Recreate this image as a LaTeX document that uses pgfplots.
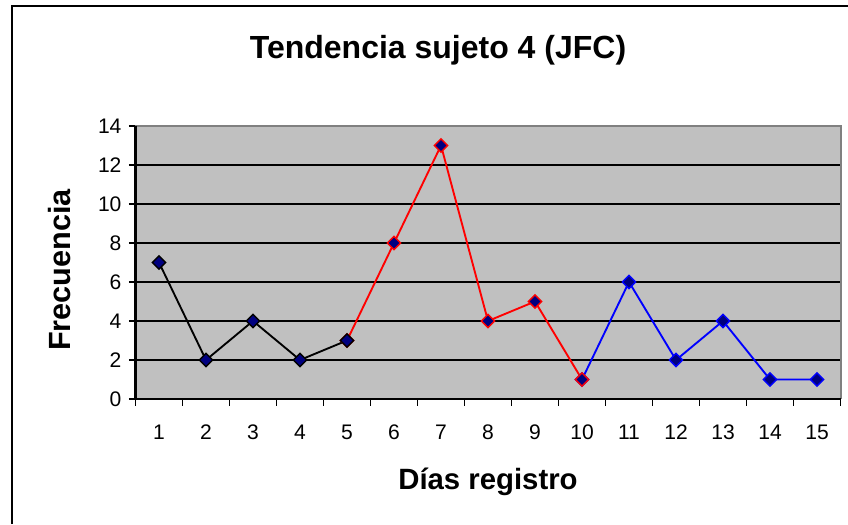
\documentclass[border=0pt]{standalone}
\usepackage{fontspec}
\setmainfont{Liberation Sans}
\usepackage{pgfplots}
\pgfplotsset{compat=1.18}
\definecolor{plotgray}{HTML}{C0C0C0}
\definecolor{navy}{HTML}{000080}
\definecolor{bordergray}{HTML}{808080}
\begin{document}
\begin{tikzpicture}
\useasboundingbox (0,0) rectangle (636pt,393pt);
\draw[line width=1.5pt] (9pt,0) -- (9pt,388.5pt) -- (636pt,388.5pt);
\node[font=\bfseries\fontsize{24}{28}\selectfont, anchor=base, inner sep=0pt] at (328.5pt,349pt) {Tendencia sujeto 4 (JFC)};
\begin{axis}[
 at={(101.625pt,93.75pt)}, anchor=south west,
 scale only axis, width=528.75pt, height=204.75pt,
 xmin=0.5, xmax=15.5, ymin=0, ymax=14,
 axis background/.style={fill=plotgray},
 axis line style={draw=bordergray, line width=1pt},
 xtick={0.5,1.5,...,15.5},
 xticklabels={1,2,3,4,5,6,7,8,9,10,11,12,13,14,15,{}},
 xticklabel style={xshift=17.625pt, yshift=-11pt},
 ytick={0,2,...,14},
 xtick pos=bottom, ytick pos=left,
 tick align=outside, tick style={black, line width=1.2pt},
 major tick length=5pt,
 ymajorgrids, grid style={black, line width=1.3pt},
 /pgf/number format/assume math mode=true,
 ticklabel style={font=\fontsize{15.8}{18}\selectfont},
 yticklabel style={xshift=-2pt},
 xlabel={Días registro}, ylabel={Frecuencia},
 xlabel style={font=\bfseries\fontsize{22}{26}\selectfont, at={(axis description cs:0.5,0)}, anchor=center, yshift=-62pt},
 ylabel style={font=\bfseries\fontsize{23}{27}\selectfont, at={(axis description cs:0,0.4725)}, anchor=center, yshift=56.6pt},
 clip=false,
]
\addplot[blue, line width=1.4pt, mark=square*, mark size=3.5pt, mark options={rotate=45, fill=navy, draw=blue, solid, line width=1pt}] coordinates {(10,1)(11,6)(12,2)(13,4)(14,1)(15,1)};
\addplot[red, line width=1.4pt, mark=square*, mark size=3.5pt, mark options={rotate=45, fill=navy, draw=red, solid, line width=1pt}] coordinates {(5,3)(6,8)(7,13)(8,4)(9,5)(10,1)};
\addplot[black, line width=1.4pt, mark=square*, mark size=3.5pt, mark options={rotate=45, fill=navy, draw=black, solid, line width=1pt}] coordinates {(1,7)(2,2)(3,4)(4,2)(5,3)};
\draw[bordergray, line width=1.5pt] (rel axis cs:0,1) -- (rel axis cs:1,1) -- (rel axis cs:1,0);
\draw[black, line width=1.6pt] (rel axis cs:0,1) -- (rel axis cs:0,0) -- (rel axis cs:1,0);
\end{axis}
\end{tikzpicture}
\end{document}
